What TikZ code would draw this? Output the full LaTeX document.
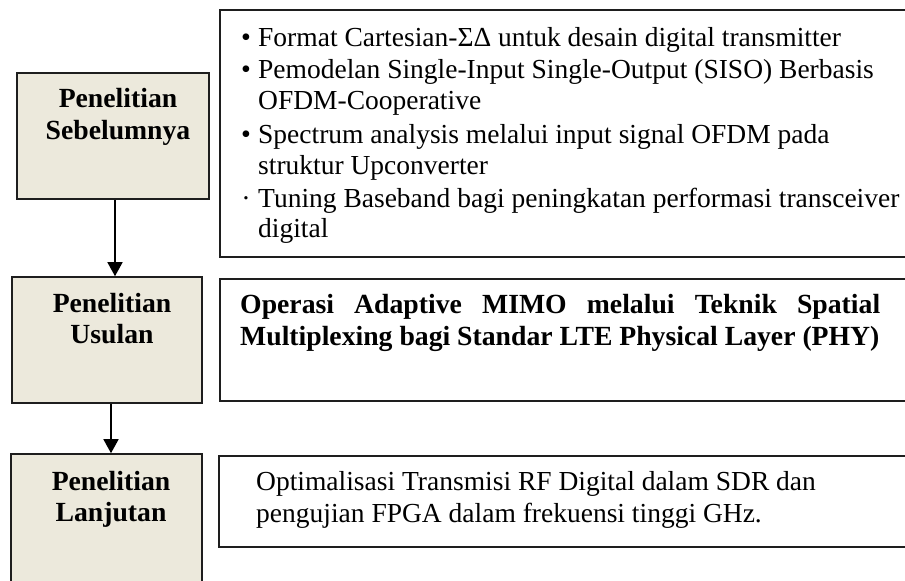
\documentclass[tikz,border=0pt]{standalone}
\usepackage{fontspec}
\setmainfont{Liberation Serif}
\usetikzlibrary{arrows.meta}
\definecolor{boxfill}{RGB}{236,233,220}
\definecolor{edge}{RGB}{30,30,30}
\tikzset{
  stage/.style={draw=edge, line width=1.6bp, fill=boxfill, inner sep=0pt},
  panel/.style={draw=edge, line width=1.6bp, fill=white, inner sep=0pt},
  head/.style={anchor=base, inner sep=0pt, font=\fontsize{27.7bp}{31bp}\selectfont\bfseries},
  body/.style={anchor=base west, inner sep=0pt, font=\fontsize{27.5bp}{31bp}\selectfont},
  bold body/.style={anchor=base west, inner sep=0pt, font=\fontsize{27.7bp}{31bp}\selectfont\bfseries},
  bul/.style={anchor=base, inner sep=0pt, font=\fontsize{28bp}{31bp}\selectfont},
  arr/.style={draw=black, line width=1.6bp, -{Triangle[width=15bp,length=14bp]}}
}
\begin{document}
\begin{tikzpicture}[x=1bp,y=-1bp]
\useasboundingbox (0,0) rectangle (905,581);
\clip (0,0) rectangle (905,581);

% stage boxes on the left
\node[stage, minimum width=192bp, minimum height=126bp] (b1) at (113,136) {};
\node[stage, minimum width=190bp, minimum height=126bp] (b2) at (107,340) {};
\node[stage, minimum width=191bp, minimum height=140bp] (b3) at (106.5,524) {};

% description panels on the right
\node[panel, minimum width=700bp, minimum height=247bp] (r1) at (570,133.5) {};
\node[panel, minimum width=700bp, minimum height=122bp] (r2) at (570,340) {};
\node[panel, minimum width=701bp, minimum height=91bp] (r3) at (569.5,501.5) {};

% stage titles
\node[head] (t1a) at (118,108) {Penelitian};
\node[head] (t1b) at (118,140) {Sebelumnya};
\node[head] (t2a) at (112,312) {Penelitian};
\node[head] (t2b) at (112,343) {Usulan};
\node[head] (t3a) at (111,490) {Penelitian};
\node[head] (t3b) at (111,521) {Lanjutan};

% earlier research items
\node[bul] (u1) at (246,47) {\textbullet};
\node[body] (l1) at (258,47) {Format Cartesian-ΣΔ untuk desain digital transmitter};
\node[bul] (u2) at (246,79) {\textbullet};
\node[body] (l2) at (258,79) {Pemodelan Single-Input Single-Output (SISO) Berbasis};
\node[body] (l3) at (258,110) {OFDM-Cooperative};
\node[bul] (u3) at (246,144) {\textbullet};
\node[body] (l4) at (258,144) {Spectrum analysis melalui input signal OFDM pada};
\node[body] (l5) at (258,175) {struktur Upconverter};
\node[bul] (u4) at (246,208) {·};
\node[body] (l6) at (258,208) {Tuning Baseband bagi peningkatan performasi transceiver};
\node[body] (l7) at (258,238) {digital};

% proposed research (justified)
\node[bold body] (p1) at (240,313) {\makebox[640bp][s]{Operasi Adaptive MIMO melalui Teknik Spatial}};
\node[bold body] (p2) at (240,345) {Multiplexing bagi Standar LTE Physical Layer (PHY)};

% further research
\node[body] (f1) at (256,490) {Optimalisasi Transmisi RF Digital dalam SDR dan};
\node[body] (f2) at (256,522) {pengujian FPGA dalam frekuensi tinggi GHz.};

% flow arrows
\draw[arr] ([xshift=2bp]b1.south) -- ([xshift=2bp]b1.south |- b2.north);
\draw[arr] ([xshift=4bp]b2.south) -- ([xshift=4bp]b2.south |- b3.north);
\end{tikzpicture}
\end{document}
